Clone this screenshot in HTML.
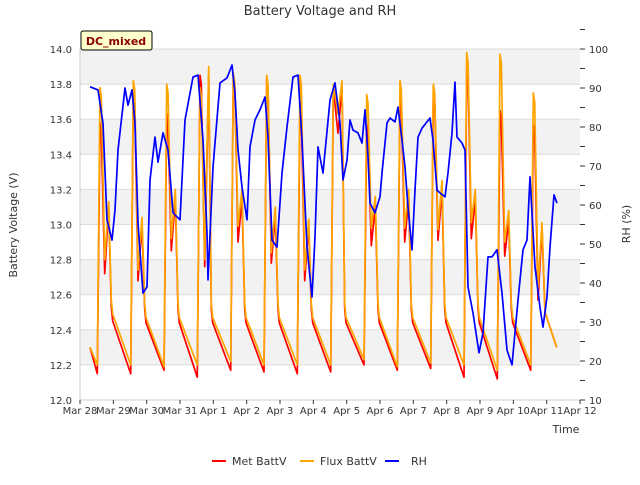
<!DOCTYPE html>
<html><head><meta charset="utf-8"><style>
body{margin:0;background:#fff;font-family:"Liberation Sans",sans-serif}
svg text{font-family:"DejaVu Sans","Liberation Sans",sans-serif;fill:#333}
</style></head><body>
<svg id="chart" width="640" height="480" xmlns="http://www.w3.org/2000/svg">
<text x="320" y="15" text-anchor="middle" font-size="13">Battery Voltage and RH</text>
<g id="bands"></g><g id="axes"></g><g id="series"></g>
<rect x="81" y="31" width="71" height="19" fill="#ffffcc" stroke="#000" stroke-width="1" rx="2"/>
<text x="116" y="45" text-anchor="middle" font-size="11" font-weight="bold" style="fill:#8b0000">DC_mixed</text>
<text transform="translate(17,225) rotate(-90)" text-anchor="middle" font-size="11">Battery Voltage (V)</text>
<text transform="translate(630,224) rotate(-90)" text-anchor="middle" font-size="11">RH (%)</text>
<text x="566" y="433" text-anchor="middle" font-size="11">Time</text>
<g>
<line x1="212" y1="461" x2="226" y2="461" stroke="#ff0000" stroke-width="2"/>
<text x="232" y="465" font-size="11">Met BattV</text>
<line x1="300" y1="461" x2="314" y2="461" stroke="#ffa500" stroke-width="2"/>
<text x="320" y="465" font-size="11">Flux BattV</text>
<line x1="385" y1="461" x2="399" y2="461" stroke="#0000ff" stroke-width="2"/>
<text x="411" y="465" font-size="11">RH</text>
</g>
</svg>
<script>
const xLabels=["Mar 28","Mar 29","Mar 30","Mar 31","Apr 1","Apr 2","Apr 3","Apr 4","Apr 5","Apr 6","Apr 7","Apr 8","Apr 9","Apr 10","Apr 11","Apr 12"];
const vTicks=[12.0,12.2,12.4,12.6,12.8,13.0,13.2,13.4,13.6,13.8,14.0];
const rhTicks=[10,20,30,40,50,60,70,80,90,100];
// daily voltage features (Flux)
const fluxMin=[12.2,12.2,12.19,12.2,12.22,12.2,12.2,12.2,12.23,12.19,12.21,12.2,12.17,12.2];
const fluxPeak=[13.78,13.82,13.8,13.78,13.86,13.85,13.85,13.8,13.74,13.82,13.8,13.98,13.97,13.75];
const fluxTrough=[12.8,12.74,12.92,12.8,12.99,12.84,12.74,13.63,12.98,12.98,12.97,13.01,12.9,12.64];
const fluxBump=[13.13,13.04,13.2,13.9,13.2,13.1,13.03,13.82,13.16,13.2,13.25,13.2,13.08,13.01];
const fluxDrop=[12.52,12.5,12.5,12.5,12.5,12.5,12.5,12.5,12.5,12.5,12.5,12.5,12.5,12.5];
// daily voltage features (Met)
const metMin=[12.15,12.15,12.17,12.13,12.17,12.16,12.15,12.16,12.2,12.17,12.18,12.13,12.12,12.17];
const metPeak=[13.58,13.75,13.63,13.85,13.85,13.83,13.7,13.75,13.57,13.73,13.75,13.9,13.65,13.57];
const metTrough=[12.72,12.68,12.85,12.76,12.9,12.78,12.68,13.52,12.88,12.9,12.91,12.92,12.82,12.57];
const metBump=[13.1,13.0,13.15,13.85,13.15,13.05,13.0,13.78,13.1,13.15,13.2,13.15,13.02,12.98];
const metDrop=[12.48,12.47,12.47,12.47,12.47,12.47,12.47,12.47,12.47,12.47,12.47,12.47,12.47,12.47];
const vStart=12.3, vEnd=12.3;
// RH series (day offsets from Mar 28, %)
const rhT=[0.30,0.54,0.69,0.81,0.96,1.05,1.14,1.35,1.44,1.56,1.65,1.74,1.89,2.01,2.10,2.25,2.34,2.49,2.64,2.79,3.00,3.15,3.39,3.54,3.69,3.81,3.84,3.99,4.20,4.41,4.56,4.65,4.74,4.86,5.01,5.10,5.25,5.40,5.55,5.64,5.76,5.91,6.06,6.21,6.39,6.54,6.66,6.81,6.96,7.05,7.14,7.29,7.50,7.65,7.80,7.89,8.01,8.10,8.19,8.34,8.46,8.55,8.64,8.70,8.85,9.00,9.06,9.21,9.30,9.45,9.54,9.66,9.75,9.84,9.96,10.05,10.14,10.26,10.50,10.59,10.71,10.80,10.95,11.04,11.16,11.25,11.31,11.46,11.55,11.64,11.79,11.97,12.09,12.24,12.36,12.51,12.66,12.81,12.96,13.14,13.29,13.41,13.50,13.65,13.80,13.89,14.01,14.10,14.22,14.31];
const rhV=[90.3,89.5,81,56.2,51,58.7,74.1,90,85.6,89.5,81,55.4,37.4,39,66.4,77.4,71,78.5,74.1,58,56.2,81.8,92.8,93.3,76.7,52.8,40.8,69.7,91.3,92.6,95.9,88.7,74.1,64.6,56.2,74.9,81.8,84.4,87.7,77.4,51,49.2,68.2,80,92.8,93.3,76.7,49.2,36.4,51.8,74.9,68.2,86.9,91.3,81,66.4,71.5,81.8,79.2,78.5,75.9,84.4,72.3,60.5,58,62.1,68.2,81,82.3,81.3,85.1,76.7,69.7,59.5,48.5,63.8,77.4,79.7,82.3,76.7,63.8,63.1,62.1,68.2,78.5,91.5,77.4,75.9,74.1,39,32.3,22.1,27.2,46.7,46.7,48.5,37.4,22.8,19,35.6,48.5,51,67.2,44.1,33.8,28.7,36.4,49.2,62.6,60.5];

const NS="http://www.w3.org/2000/svg";
const L=80,R=580,T=49,B=400;
const xs=d=>L+(R-L)*d/15;
const yv=v=>B-(B-T)*(v-12)/2;
const yr=v=>B-(B-T)*(v-10)/90;
function mk(tag,attrs,parent){const e=document.createElementNS(NS,tag);for(const k in attrs)e.setAttribute(k,attrs[k]);parent.appendChild(e);return e;}
const bands=document.getElementById('bands'),axes=document.getElementById('axes'),series=document.getElementById('series');
for(let i=0;i<vTicks.length-1;i++){
  if(i%2===1){const r=mk('rect',{x:L,y:yv(vTicks[i+1]),width:R-L,height:yv(vTicks[i])-yv(vTicks[i+1]),fill:'#f2f2f2'},bands);
  
  }
}
vTicks.forEach(v=>{
  const g=mk('line',{x1:L,x2:R,y1:yv(v),y2:yv(v),stroke:'#dcdcdc','stroke-width':1},bands);
  
  
  const t=mk('text',{x:L-8,y:yv(v)+4,'text-anchor':'end','font-size':10},axes);
  t.textContent=v.toFixed(1);
  
  
});
const ax=mk('path',{d:`M${L},${T}V${B}H${R}`,stroke:'#ccc',fill:'none'},axes);


rhTicks.forEach(v=>{
  mk('line',{x1:R,x2:R+5,y1:yr(v),y2:yr(v),stroke:'#333'},axes);
  const m=mk('line',{x1:R,x2:R+5,y1:yr(v+5),y2:yr(v+5),stroke:'#333'},axes);
  
  
  const t=mk('text',{x:R+9,y:yr(v)+4,'font-size':10},axes);
  t.textContent=v;
  
  
});
xLabels.forEach((s,i)=>{
  mk('line',{x1:xs(i),x2:xs(i),y1:B,y2:B+4,stroke:'#333'},axes);
  const t=mk('text',{x:xs(i),y:B+14,'text-anchor':'middle','font-size':10},axes);
  t.textContent=s;
  
  
});
function buildV(mn,pk,tr,bp,dr){
  const pts=[[0.3,vStart]];
  for(let k=0;k<mn.length;k++){
    pts.push([k+0.52,mn[k]],[k+0.6,pk[k]],[k+0.64,pk[k]-0.05],[k+0.74,tr[k]],[k+0.86,bp[k]],[k+0.94,dr[k]+0.05],[k+0.98,dr[k]-0.03]);
  }
  pts.splice(pts.length-2,2,[13.95,12.5]);
  pts.push([14.3,vEnd]);
  return pts;
}
function draw(pts,fy,color,name){
  const d=pts.map((p,i)=>(i?'L':'M')+xs(p[0]).toFixed(1)+','+fy(p[1]).toFixed(1)).join('');
  const p=mk('path',{d:d,stroke:color,fill:'none','stroke-width':1.7,'stroke-linejoin':'round'},series);
  
  
}
draw(buildV(metMin,metPeak,metTrough,metBump,metDrop),yv,'#ff0000','met-battv-line');
draw(buildV(fluxMin,fluxPeak,fluxTrough,fluxBump,fluxDrop),yv,'#ffa500','flux-battv-line');
draw(rhT.map((t,i)=>[t,rhV[i]]),yr,'#0000ff','rh-line');
</script>
</body></html>
